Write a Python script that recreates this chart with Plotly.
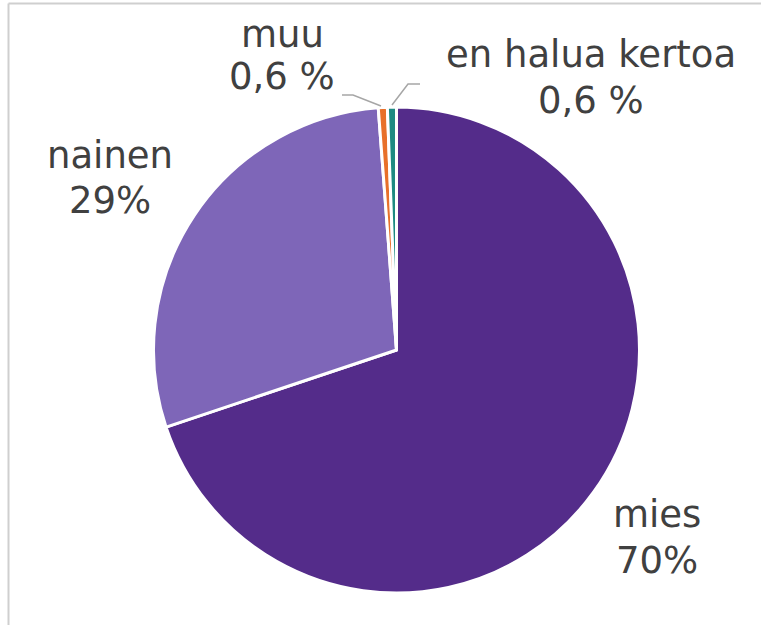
import plotly.graph_objects as go

labels = ["mies", "nainen", "muu", "en halua kertoa"]
values = [70, 29, 0.6, 0.6]
pct_text = ["70%", "29%", "0,6 %", "0,6 %"]
colors = ["#542C8A", "#7E66B8", "#E8702A", "#1E8A82"]

W, H = 761, 625
def px(x):
    return x / W
def py(y):
    return 1 - y / H

fig = go.Figure(go.Pie(
    labels=labels, values=values, sort=False, direction="clockwise", rotation=0,
    marker=dict(colors=colors, line=dict(color="white", width=3)),
    textinfo="none", hoverinfo="label+percent", showlegend=False,
    domain=dict(x=[px(153), px(640)], y=[py(593), py(107)]),
))

# label positions: x centre, y centre of name line, y centre of percent line (pixels)
label_pos = [(657, 514, 560), (110, 155, 200), (282, 34, 77), (591, 55, 101)]
font = dict(family="DejaVu Sans", size=37, color="#404040")
annotations = []
for name, pct, (x, y1, y2) in zip(labels, pct_text, label_pos):
    for t, y in ((name, y1), (pct, y2)):
        annotations.append(dict(text=t, x=px(x), y=py(y), xref="paper", yref="paper",
                                xanchor="center", yanchor="middle", showarrow=False, font=font))

shapes = []
# chart frame (left and top edges visible)
shapes.append(dict(type="line", xref="paper", yref="paper", x0=px(8.5), y0=py(3.5), x1=1.01, y1=py(3.5),
                   line=dict(color="#CFCFCF", width=2)))
shapes.append(dict(type="line", xref="paper", yref="paper", x0=px(8.5), y0=py(3.5), x1=px(8.5), y1=-0.01,
                   line=dict(color="#CFCFCF", width=2)))
# leader lines
leaders = [[(342, 95), (353, 95), (381, 106)], [(420, 84), (408, 84), (392, 105)]]
for pts in leaders:
    path = "M " + " L ".join(f"{px(x)},{py(y)}" for x, y in pts)
    shapes.append(dict(type="path", xref="paper", yref="paper", path=path,
                       line=dict(color="#A6A6A6", width=1.5)))

fig.update_layout(width=W, height=H, margin=dict(l=0, r=0, t=0, b=0),
                  paper_bgcolor="white", plot_bgcolor="white",
                  annotations=annotations, shapes=shapes)
fig.write_html("out.html", config={"displayModeBar": False},
               post_script="document.body.style.margin='0px';document.body.style.overflow='hidden';")
